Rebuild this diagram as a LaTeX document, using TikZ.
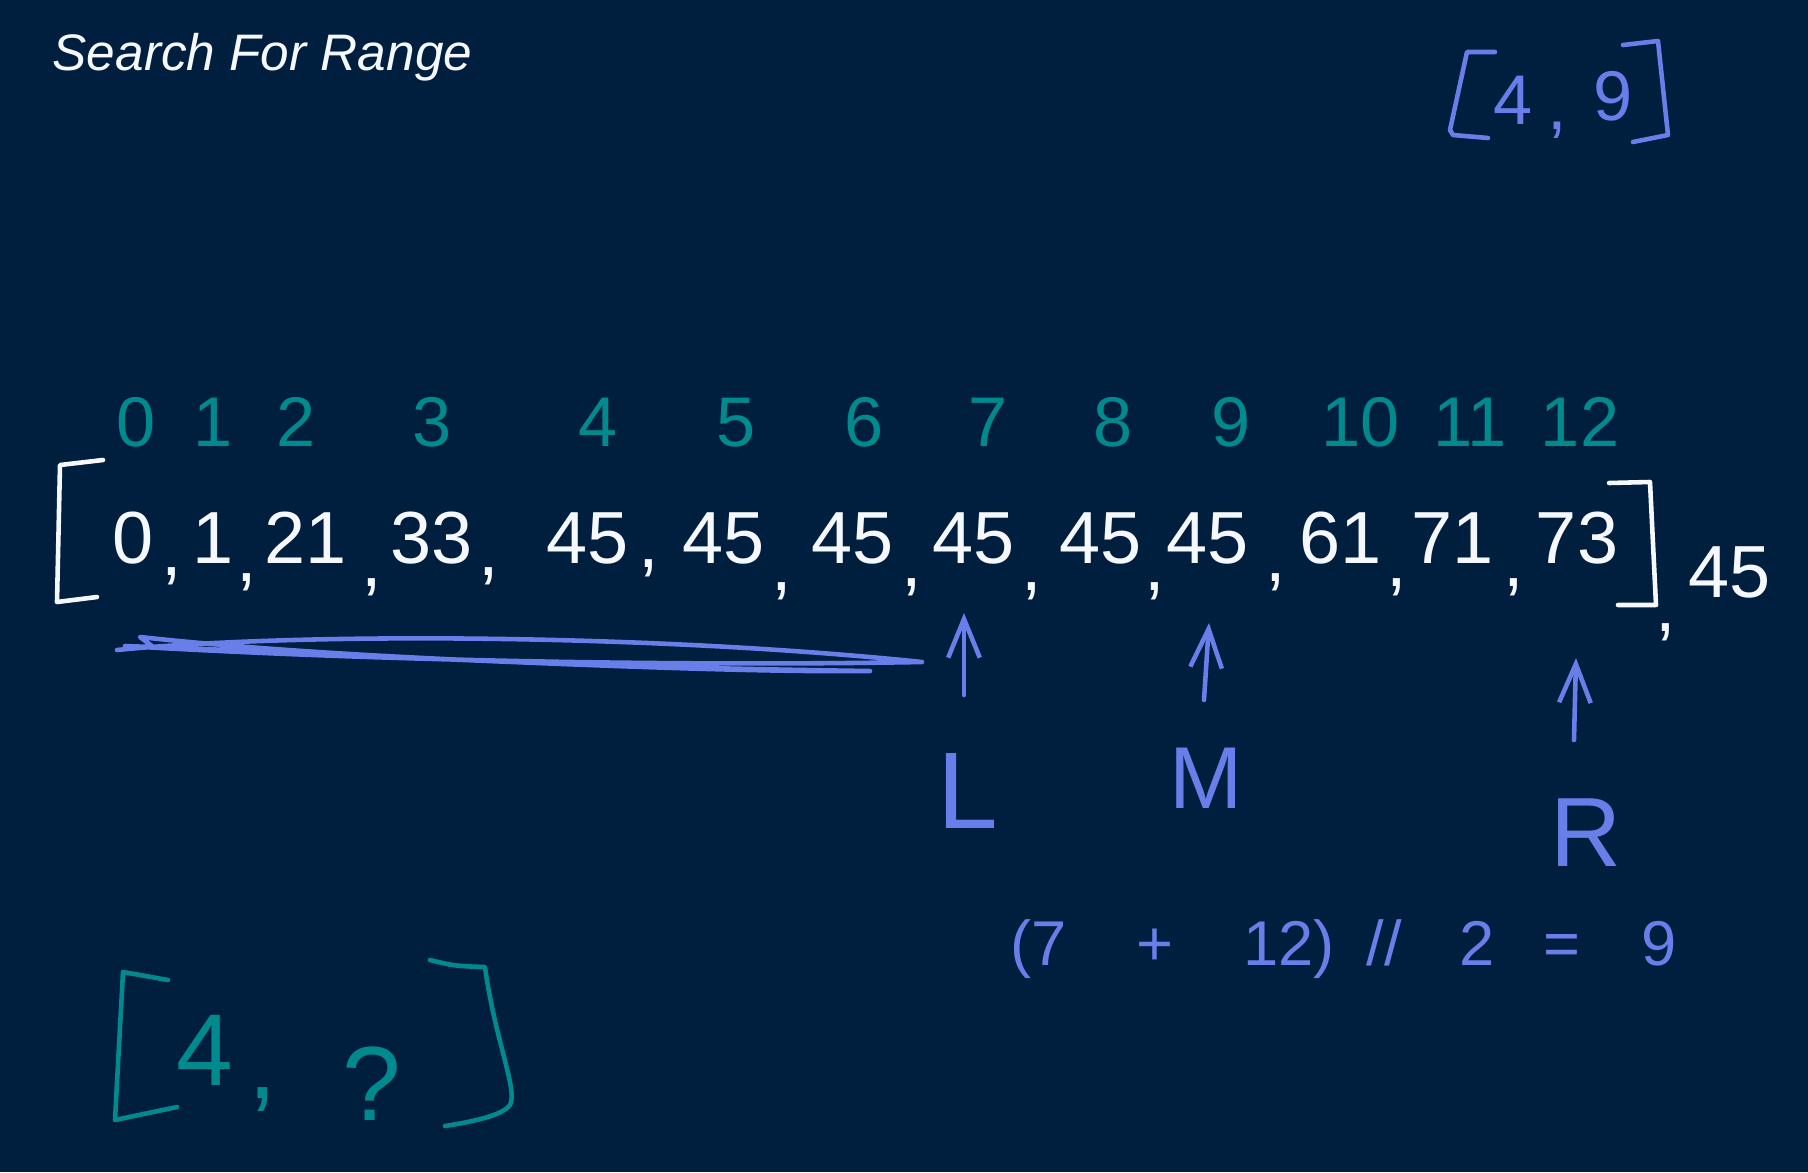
\documentclass[tikz,border=0pt]{standalone}
\usepackage{fontspec}
\setmainfont{Liberation Sans}
\usetikzlibrary{arrows.meta}
\definecolor{board}{RGB}{0,30,62}
\definecolor{chalk}{RGB}{246,248,255}
\definecolor{inkteal}{RGB}{0,138,142}
\definecolor{inkblue}{RGB}{104,126,232}
\tikzset{
title/.style={text=chalk,font=\fontsize{14.6}{17}\selectfont\itshape,anchor=base west,inner sep=0},
index/.style={text=inkteal,font=\fontsize{20}{24}\selectfont,anchor=base,inner sep=0},
value/.style={text=chalk,font=\fontsize{21}{25}\selectfont,anchor=base,inner sep=0},
sep/.style={text=chalk,font=\fontsize{21}{25}\selectfont,inner sep=0},
ptrname/.style={text=inkblue,font=\fontsize{28}{32}\selectfont,anchor=base,inner sep=0},
note/.style={font=\fontsize{20}{24}\selectfont,anchor=base,inner sep=0},
pen/.style={line width=1.3pt,line cap=round,line join=round},
pointer/.style={pen,draw=inkblue,-{Straight Barb[length=11pt,width=9pt,line width=1.3pt]}}
}
\begin{document}
\begin{tikzpicture}[x=0.01cm,y=-0.01cm]
\fill[board] (0,0) rectangle (1808,1172);
\node[title](title) at (52,70){Search For Range};
% answer found so far
\draw[pen,draw=inkblue] (1495,52) -- (1467,52) -- (1450,130) -- (1453,135) -- (1488,138);
\draw[pen,draw=inkblue] (1623,45) -- (1658,41) -- (1668,135) -- (1633,142);
\node[note,text=inkblue](ra) at (1513,124){4};
\node[sep,text=inkblue,font=\fontsize{20}{24}\selectfont](rc) at (1557,130){,};
\node[note,text=inkblue](rb) at (1613,120){9};
% indices
\foreach \n/\x in {0/136,1/213,2/296,3/432,4/598,5/736,6/864,7/988,8/1113,9/1231,10/1361,11/1470,12/1580}
  \node[index](i\n) at (\x,446){\n};
% array
\draw[pen,draw=chalk] (103,460) -- (60,465) -- (57,602) -- (97,597);
\draw[pen,draw=chalk] (1609,483) -- (1650,482) -- (1656,605) -- (1618,605);
\foreach \n/\v/\x in {0/0/133,1/1/213,2/21/306,3/33/432,4/45/588,5/45/724,6/45/853,7/45/974,8/45/1101,9/45/1208,10/61/1341,11/71/1453,12/73/1577}
  \node[value](v\n) at (\x,563){\v};
\foreach \n/\x/\y in {0/172/576,1/247/582,2/372/587,3/489/576,4/649/568,5/782/591,6/912/587,7/1032/591,8/1155/591,9/1276/582,10/1397/587,11/1514/587,12/1666/632}
  \node[sep](c\n) at (\x,\y){,};
\node[value](target) at (1730,597){45};
% discarded half
\draw[pen,draw=inkblue] (117,650) .. controls (300,632) and (650,634) .. (922,662)
  .. controls (700,666) and (400,662) .. (125,646)
  .. controls (400,656) and (700,673) .. (870,671)
  .. controls (650,668) and (350,660) .. (140,637) -- (152,646);
% pointers
\coordinate (Ltail) at (964,695); \coordinate (Lhead) at (964,613);
\coordinate (Mtail) at (1204,700); \coordinate (Mhead) at (1209,623);
\coordinate (Rtail) at (1574,740); \coordinate (Rhead) at (1576,658);
\draw[pointer] (Ltail) -- (Lhead);
\draw[pointer] (Mtail) -- (Mhead);
\draw[pointer] (Rtail) -- (Rhead);
\node[ptrname,font=\fontsize{31}{34}\selectfont](L) at (968,828){L};
\node[ptrname,font=\fontsize{25}{30}\selectfont](M) at (1206,808){M};
\node[ptrname](R) at (1586,866){R};
\node[note,text=inkblue,font=\fontsize{18}{22}\selectfont,anchor=base west](mid) at (1010,965)
  {(7\hspace{0.7cm}+\hspace{0.69cm}12)\hspace{0.32cm}//\hspace{0.58cm}2\hspace{0.49cm}=\hspace{0.61cm}9};
% range wanted
\draw[pen,draw=inkteal] (168,980) -- (123,972) -- (115,1120) -- (177,1107);
\draw[pen,draw=inkteal] (430,960) .. controls (455,966) .. (485,967)
  .. controls (495,1040) and (518,1090) .. (510,1105) .. controls (502,1116) and (470,1122) .. (445,1126);
\node[note,text=inkteal,font=\fontsize{29}{33}\selectfont](la) at (205,1085){4};
\node[sep,text=inkteal,font=\fontsize{29}{33}\selectfont](lc) at (263,1100){,};
\node[note,text=inkteal,font=\fontsize{30}{34}\selectfont](lb) at (372,1120){?};
\end{tikzpicture}
\end{document}
